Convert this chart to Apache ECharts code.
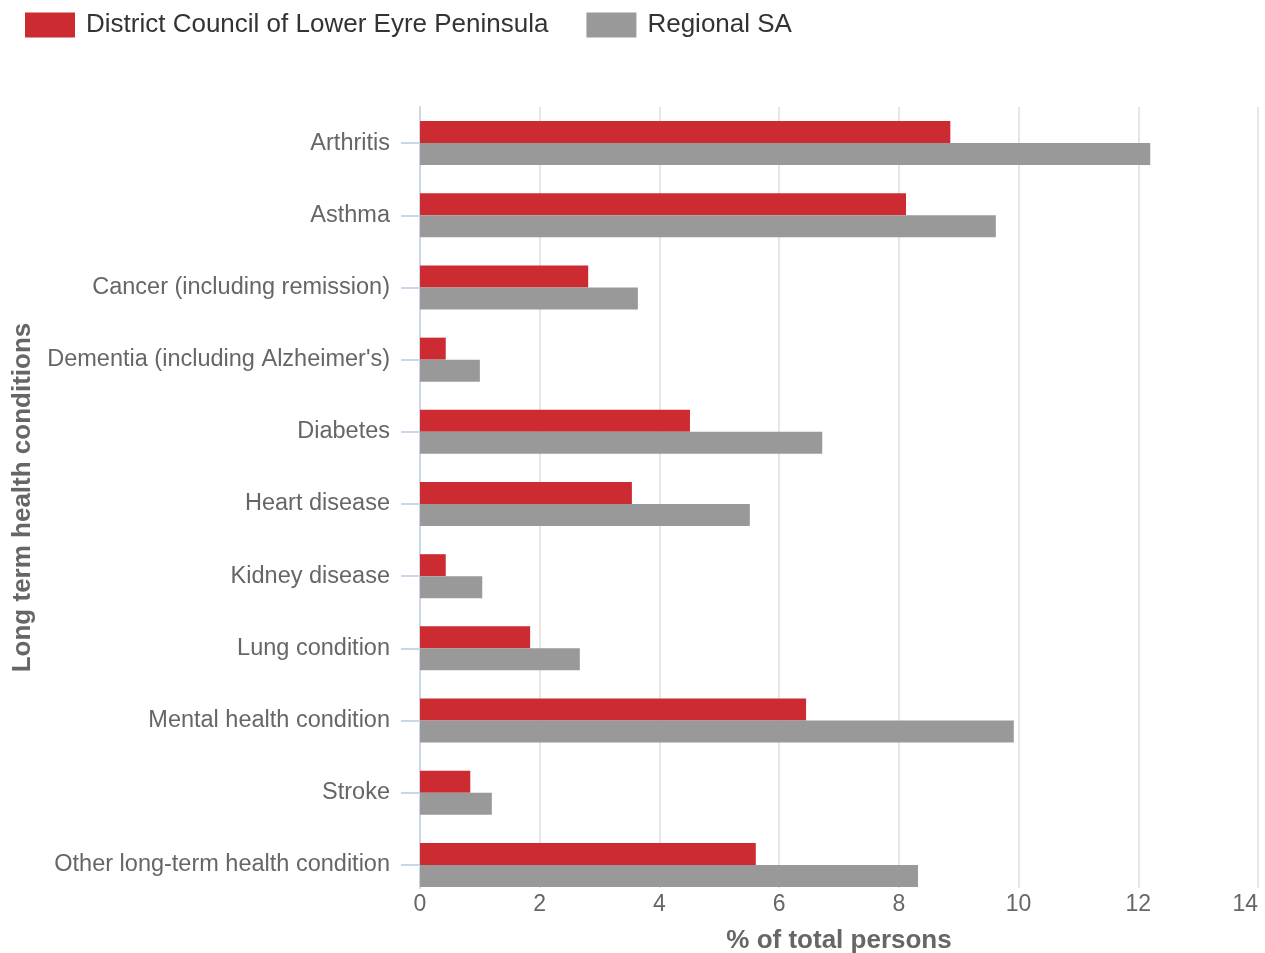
<!DOCTYPE html>
<html><head><meta charset="utf-8">
<script src="https://cdn.jsdelivr.net/npm/echarts@6/dist/echarts.min.js"></script>
<style>html,body{margin:0;padding:0;background:#fff}#c{width:1265px;height:953px}</style>
</head><body><div id="c"></div>
<script>
const categories = ["Arthritis","Asthma","Cancer (including remission)","Dementia (including Alzheimer's)","Diabetes","Heart disease","Kidney disease","Lung condition","Mental health condition","Stroke","Other long-term health condition"];
const lowerEyre = [8.86,8.12,2.81,0.43,4.51,3.54,0.43,1.84,6.45,0.84,5.61];
const regionalSA = [12.2,9.62,3.64,1.0,6.72,5.51,1.04,2.67,9.92,1.2,8.32];
const xTicks = {min:0,max:14,interval:2};

const font = 'Liberation Sans, Arial, sans-serif';
const chart = echarts.init(document.getElementById('c'), null, {renderer:'canvas'});
chart.setOption({
  animation:false,
  textStyle:{fontFamily:font},
  legend:{
    left:25, top:12, padding:0, itemWidth:50, itemHeight:25, itemGap:38,
    icon:'rect',
    textStyle:{fontSize:26, color:'#333', padding:[3,0,0,6]},
    data:['District Council of Lower Eyre Peninsula','Regional SA']
  },
  grid:[
    {left:420, right:7, top:107, bottom:52, containLabel:false, outerBoundsMode:'none'},
    {left:420, right:7, top:107, bottom:65, containLabel:false, outerBoundsMode:'none'}
  ],
  xAxis:[
    {gridIndex:0, type:'value', min:xTicks.min, max:xTicks.max, interval:xTicks.interval,
     show:false, splitLine:{show:false}},
    {gridIndex:1, type:'value', min:xTicks.min, max:xTicks.max, interval:xTicks.interval,
     name:'% of total persons', nameLocation:'middle', nameGap:40,
     nameTextStyle:{fontSize:26, fontWeight:'bold', color:'#666'},
     axisLine:{show:false}, axisTick:{show:false},
     axisLabel:{fontSize:23, color:'#666', margin:5, alignMaxLabel:'right'},
     splitLine:{show:true, lineStyle:{color:'#e6e6e6', width:2}}}
  ],
  yAxis:[
    {gridIndex:0, type:'category', data:categories, inverse:true,
     axisLine:{show:false},
     axisTick:{show:true, alignWithLabel:true, length:19, lineStyle:{color:'#ccd6eb', width:2}},
     axisLabel:{fontSize:23.5, color:'#666', margin:30}},
    {gridIndex:1, type:'value', min:0, max:1,
     name:'Long term health conditions', nameLocation:'middle', nameGap:384, nameRotate:90,
     nameTextStyle:{fontSize:26, fontWeight:'bold', color:'#666'},
     axisLine:{show:true, lineStyle:{color:'#ccd6eb', width:2}},
     axisTick:{show:false}, axisLabel:{show:false}, splitLine:{show:false}}
  ],
  series:[
    {name:'District Council of Lower Eyre Peninsula', type:'bar', data:lowerEyre,
     xAxisIndex:0, yAxisIndex:0,
     itemStyle:{color:'#cc2b32'}, barWidth:22, barGap:'0%'},
    {name:'Regional SA', type:'bar', data:regionalSA,
     xAxisIndex:0, yAxisIndex:0,
     itemStyle:{color:'#999999'}, barWidth:22, barGap:'0%'}
  ]
});
</script></body></html>
